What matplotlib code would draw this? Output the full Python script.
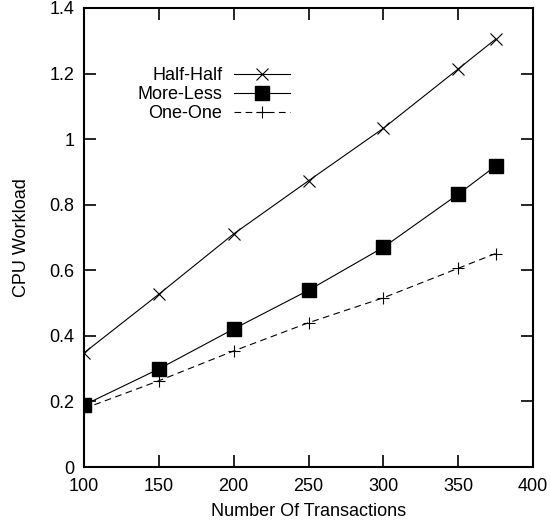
import matplotlib
matplotlib.use("Agg")
import matplotlib.pyplot as plt

plt.rcParams['font.family'] = ['Liberation Sans', 'DejaVu Sans']

x = [100, 150, 200, 250, 300, 350, 375]
half_half = [0.348, 0.527, 0.711, 0.873, 1.033, 1.214, 1.305]
more_less = [0.189, 0.299, 0.421, 0.539, 0.670, 0.832, 0.918]
one_one = [0.178, 0.263, 0.354, 0.440, 0.516, 0.606, 0.651]

xticks = [100, 150, 200, 250, 300, 350, 400]
yticks = [0, 0.2, 0.4, 0.6, 0.8, 1.0, 1.2, 1.4]
ytick_labels = ['0', '0.2', '0.4', '0.6', '0.8', '1', '1.2', '1.4']

FS = 13

fig = plt.figure(figsize=(5.5, 5.29), dpi=100)
ax = fig.add_axes([84/550, 62/529, 449/550, 459/529])

ax.plot(x, half_half, color='black', lw=0.8, marker='x', markersize=9,
        markeredgewidth=0.8, label='Half-Half')
ax.plot(x, more_less, color='black', lw=0.8, marker='s', markersize=10,
        label='More-Less')
ax.plot(x, one_one, color='black', lw=0.8, ls=(0, (6, 4)), marker='+',
        markersize=8, markeredgewidth=0.8, label='One-One')

ax.set_xlim(100, 400)
ax.set_ylim(0, 1.4)
ax.set_xticks(xticks)
ax.set_xticklabels([str(t) for t in xticks])
ax.set_yticks(yticks)
ax.set_yticklabels(ytick_labels)
ax.tick_params(direction='in', length=8.5, width=1.2, top=True, right=True,
               labelsize=FS)
ax.tick_params(axis='x', pad=8)
ax.tick_params(axis='y', pad=7)
for s in ax.spines.values():
    s.set_linewidth(1.5)

ax.set_xlabel('Number Of Transactions', fontsize=FS, labelpad=6)
ax.set_ylabel('CPU Workload', fontsize=FS, labelpad=14)

leg = ax.legend(loc='upper right', bbox_to_anchor=(0.459, 0.871),
                frameon=False, markerfirst=False, fontsize=FS,
                handlelength=3.1, handletextpad=0.65, labelspacing=0.1,
                borderpad=0, borderaxespad=0)

fig.savefig('out.png', dpi=100)
